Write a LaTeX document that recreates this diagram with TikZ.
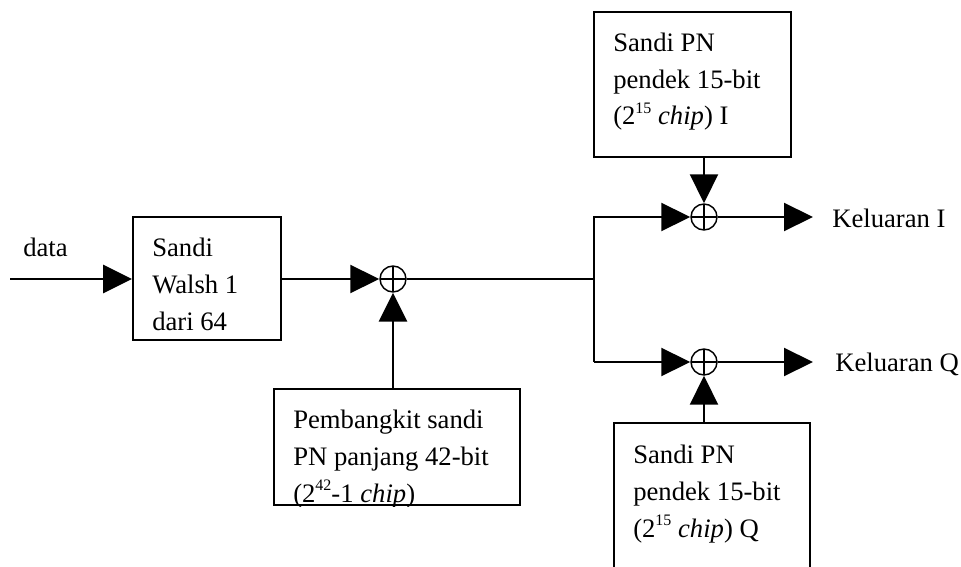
\documentclass[tikz,border=0pt]{standalone}
\usepackage{fontspec}
\setmainfont{Liberation Serif}
\usetikzlibrary{arrows.meta,fit}
\newcommand{\powr}[1]{\raisebox{0.42em}{\fontsize{12}{12}\selectfont #1}}

\begin{document}
\begin{tikzpicture}[
  x=0.75pt, y=-0.75pt,
  every node/.style={inner sep=0pt, font=\fontsize{20}{27.4}\selectfont},
  box/.style={draw, line width=1.5pt, inner sep=0pt},
  lbl/.style={anchor=base west, align=left},
  xor/.style={circle, draw, line width=1.1pt, minimum size=19.5pt, inner sep=0pt,
    path picture={\draw[line width=1.2pt]
      (path picture bounding box.north) -- (path picture bounding box.south)
      (path picture bounding box.west) -- (path picture bounding box.east);}},
  wire/.style={draw, line width=1.6pt},
  arrow/.style={wire, -{Triangle[length=21.75pt, width=21pt]}},
  thickarrow/.style={arrow, line width=2.2pt}]

  \clip (0,0) rectangle (961,567);

  % blocks
  \node[box, fit={(133,217) (281,340)}] (walsh) {};
  \node[box, fit={(274,389) (520,505)}] (pnlong) {};
  \node[box, fit={(594,12) (791,157)}] (pni) {};
  \node[box, fit={(614,423) (810,600)}] (pnq) {};

  % block texts (anchored on the last line)
  \node[lbl] (twalsh) at (152,330) {Sandi\\Walsh 1\\dari 64};
  \begin{scope}
    \clip (pnlong.north west) rectangle (pnlong.south east);
    \node[lbl] (tpnlong) at (293,502)
      {Pembangkit sandi\\PN panjang 42-bit\\(2\powr{42}-1 \textit{chip})};
  \end{scope}
  \node[lbl] (tpni) at (613,125) {Sandi PN\\pendek 15-bit\\(2\powr{15} \textit{chip}) I};
  \node[lbl] (tpnq) at (633,537) {Sandi PN\\pendek 15-bit\\(2\powr{15} \textit{chip}) Q};

  % modulo-2 adders
  \node[xor] (x1) at (393,279) {};
  \node[xor] (xi) at (704,217) {};
  \node[xor] (xq) at (704,362) {};

  \coordinate (in) at (10,279);
  \coordinate (split) at (594,279);
  \coordinate (outi) at (813,217);
  \coordinate (outq) at (813,362);

  % connections
  \draw[thickarrow] (in) -- (in -| walsh.west);
  \draw[arrow] (walsh.east |- x1) -- (x1.west);
  \draw[thickarrow] (x1 |- pnlong.north) -- (x1.south);
  \draw[wire] (x1.east) -- (split);
  \draw[arrow] (split |- xq) -- (split |- xi) -- (xi.west);
  \draw[arrow] (split |- xq) -- (xq.west);
  \draw[arrow] (xi |- pni.south) -- (xi.north);
  \draw[arrow] (xq |- pnq.north) -- (xq.south);
  \draw[arrow] (xi.east) -- (outi);
  \draw[arrow] (xq.east) -- (outq);

  % signal labels
  \node[lbl] (data) at (23,256) {data};
  \node[lbl] (keli) at (832,227) {Keluaran I};
  \node[lbl] (kelq) at (835,371) {Keluaran Q};
\end{tikzpicture}
\end{document}
